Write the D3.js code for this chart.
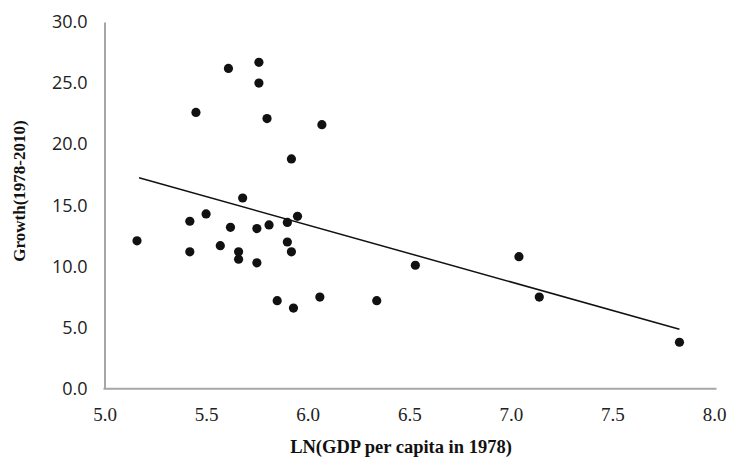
<!DOCTYPE html>
<meta charset="utf-8">
<style>
    body { margin: 0; background: #fff; }
    .yAxis text {
        font-family: "Open Sans", sans-serif;
        font-size: 18px;
        fill: #222;
    }
    .xAxis text {
        font-family: "Liberation Serif", "Times New Roman", serif;
        font-size: 19px;
        fill: #222;
    }
    .domain {
        stroke: #a6a6a6;
        stroke-width: 2px;
    }
    .title {
        font-family: "Liberation Serif", "Times New Roman", serif;
        font-weight: bold;
        fill: #111;
    }
    .trend {
        fill: none;
        stroke: #111;
        stroke-width: 1.5px;
    }
    .dot {
        fill: #111;
    }
</style>
<body>
    <svg width="729" height="458"></svg>
</body>
<script src="https://d3js.org/d3.v7.min.js"></script>
<script>

    // values
    var gdp1978 = [5.16, 5.42, 5.50, 5.62, 5.42, 5.57, 5.66, 5.66, 5.75, 5.75,
                   5.81, 5.90, 5.95, 5.90, 5.92, 5.68, 5.92, 6.07, 5.80, 5.45,
                   5.61, 5.76, 5.76, 5.85, 5.93, 6.06, 6.34, 6.53, 7.04, 7.14, 7.83];
    var growth = [12.1, 13.7, 14.3, 13.2, 11.2, 11.7, 11.2, 10.6, 10.3, 13.1,
                  13.4, 13.6, 14.1, 12.0, 11.2, 15.6, 18.8, 21.6, 22.1, 22.6,
                  26.2, 26.7, 25.0, 7.2, 6.6, 7.5, 7.2, 10.1, 10.8, 7.5, 3.8];

    // linear trend line end points
    var trendX = [5.17, 7.83];
    var trendY = [17.26, 4.87];

    var xTicks = [5.0, 5.5, 6.0, 6.5, 7.0, 7.5, 8.0];
    var yTicks = [0, 5, 10, 15, 20, 25, 30];

    var svg = d3.select("svg");

    var x = d3.scaleLinear().domain([5, 8]).range([104.5, 714]);
    var y = d3.scaleLinear().domain([0, 30]).range([388.7, 22]);

    // y axis
    svg.append("g")
        .attr("class", "yAxis")
        .attr("transform", "translate(" + x(5) + ",0)")
        .call(d3.axisLeft(y)
            .tickValues(yTicks)
            .tickSize(0)
            .tickPadding(17)
            .tickFormat(d3.format(".1f")));

    // x axis
    var xAxisG = svg.append("g")
        .attr("class", "xAxis")
        .attr("transform", "translate(0," + y(0) + ")")
        .call(d3.axisBottom(x)
            .tickValues(xTicks)
            .tickSize(0)
            .tickPadding(18.5)
            .tickFormat(d3.format(".1f")));
    xAxisG.select(".domain").attr("d", "M" + (x(5) - 1) + ",0H" + (x(8) + 2.5));

    // trend line
    var line = d3.line()
        .x(function (d, i) { return x(trendX[i]); })
        .y(function (d) { return y(d); });
    svg.append("path")
        .attr("class", "trend")
        .attr("d", line(trendY));

    // points
    svg.append("g").selectAll("circle")
        .data(growth)
        .enter().append("circle")
        .attr("class", "dot")
        .attr("cx", function (d, i) { return x(gdp1978[i]); })
        .attr("cy", function (d) { return y(d); })
        .attr("r", 4.6);

    // axis titles
    svg.append("text")
        .attr("class", "title")
        .attr("x", 401)
        .attr("y", 453)
        .style("font-size", "18.5px")
        .style("text-anchor", "middle")
        .text("LN(GDP per capita in 1978)");

    svg.append("text")
        .attr("class", "title")
        .attr("transform", "translate(24.5,191) rotate(-90)")
        .style("font-size", "17px")
        .style("text-anchor", "middle")
        .text("Growth(1978-2010)");

</script>
